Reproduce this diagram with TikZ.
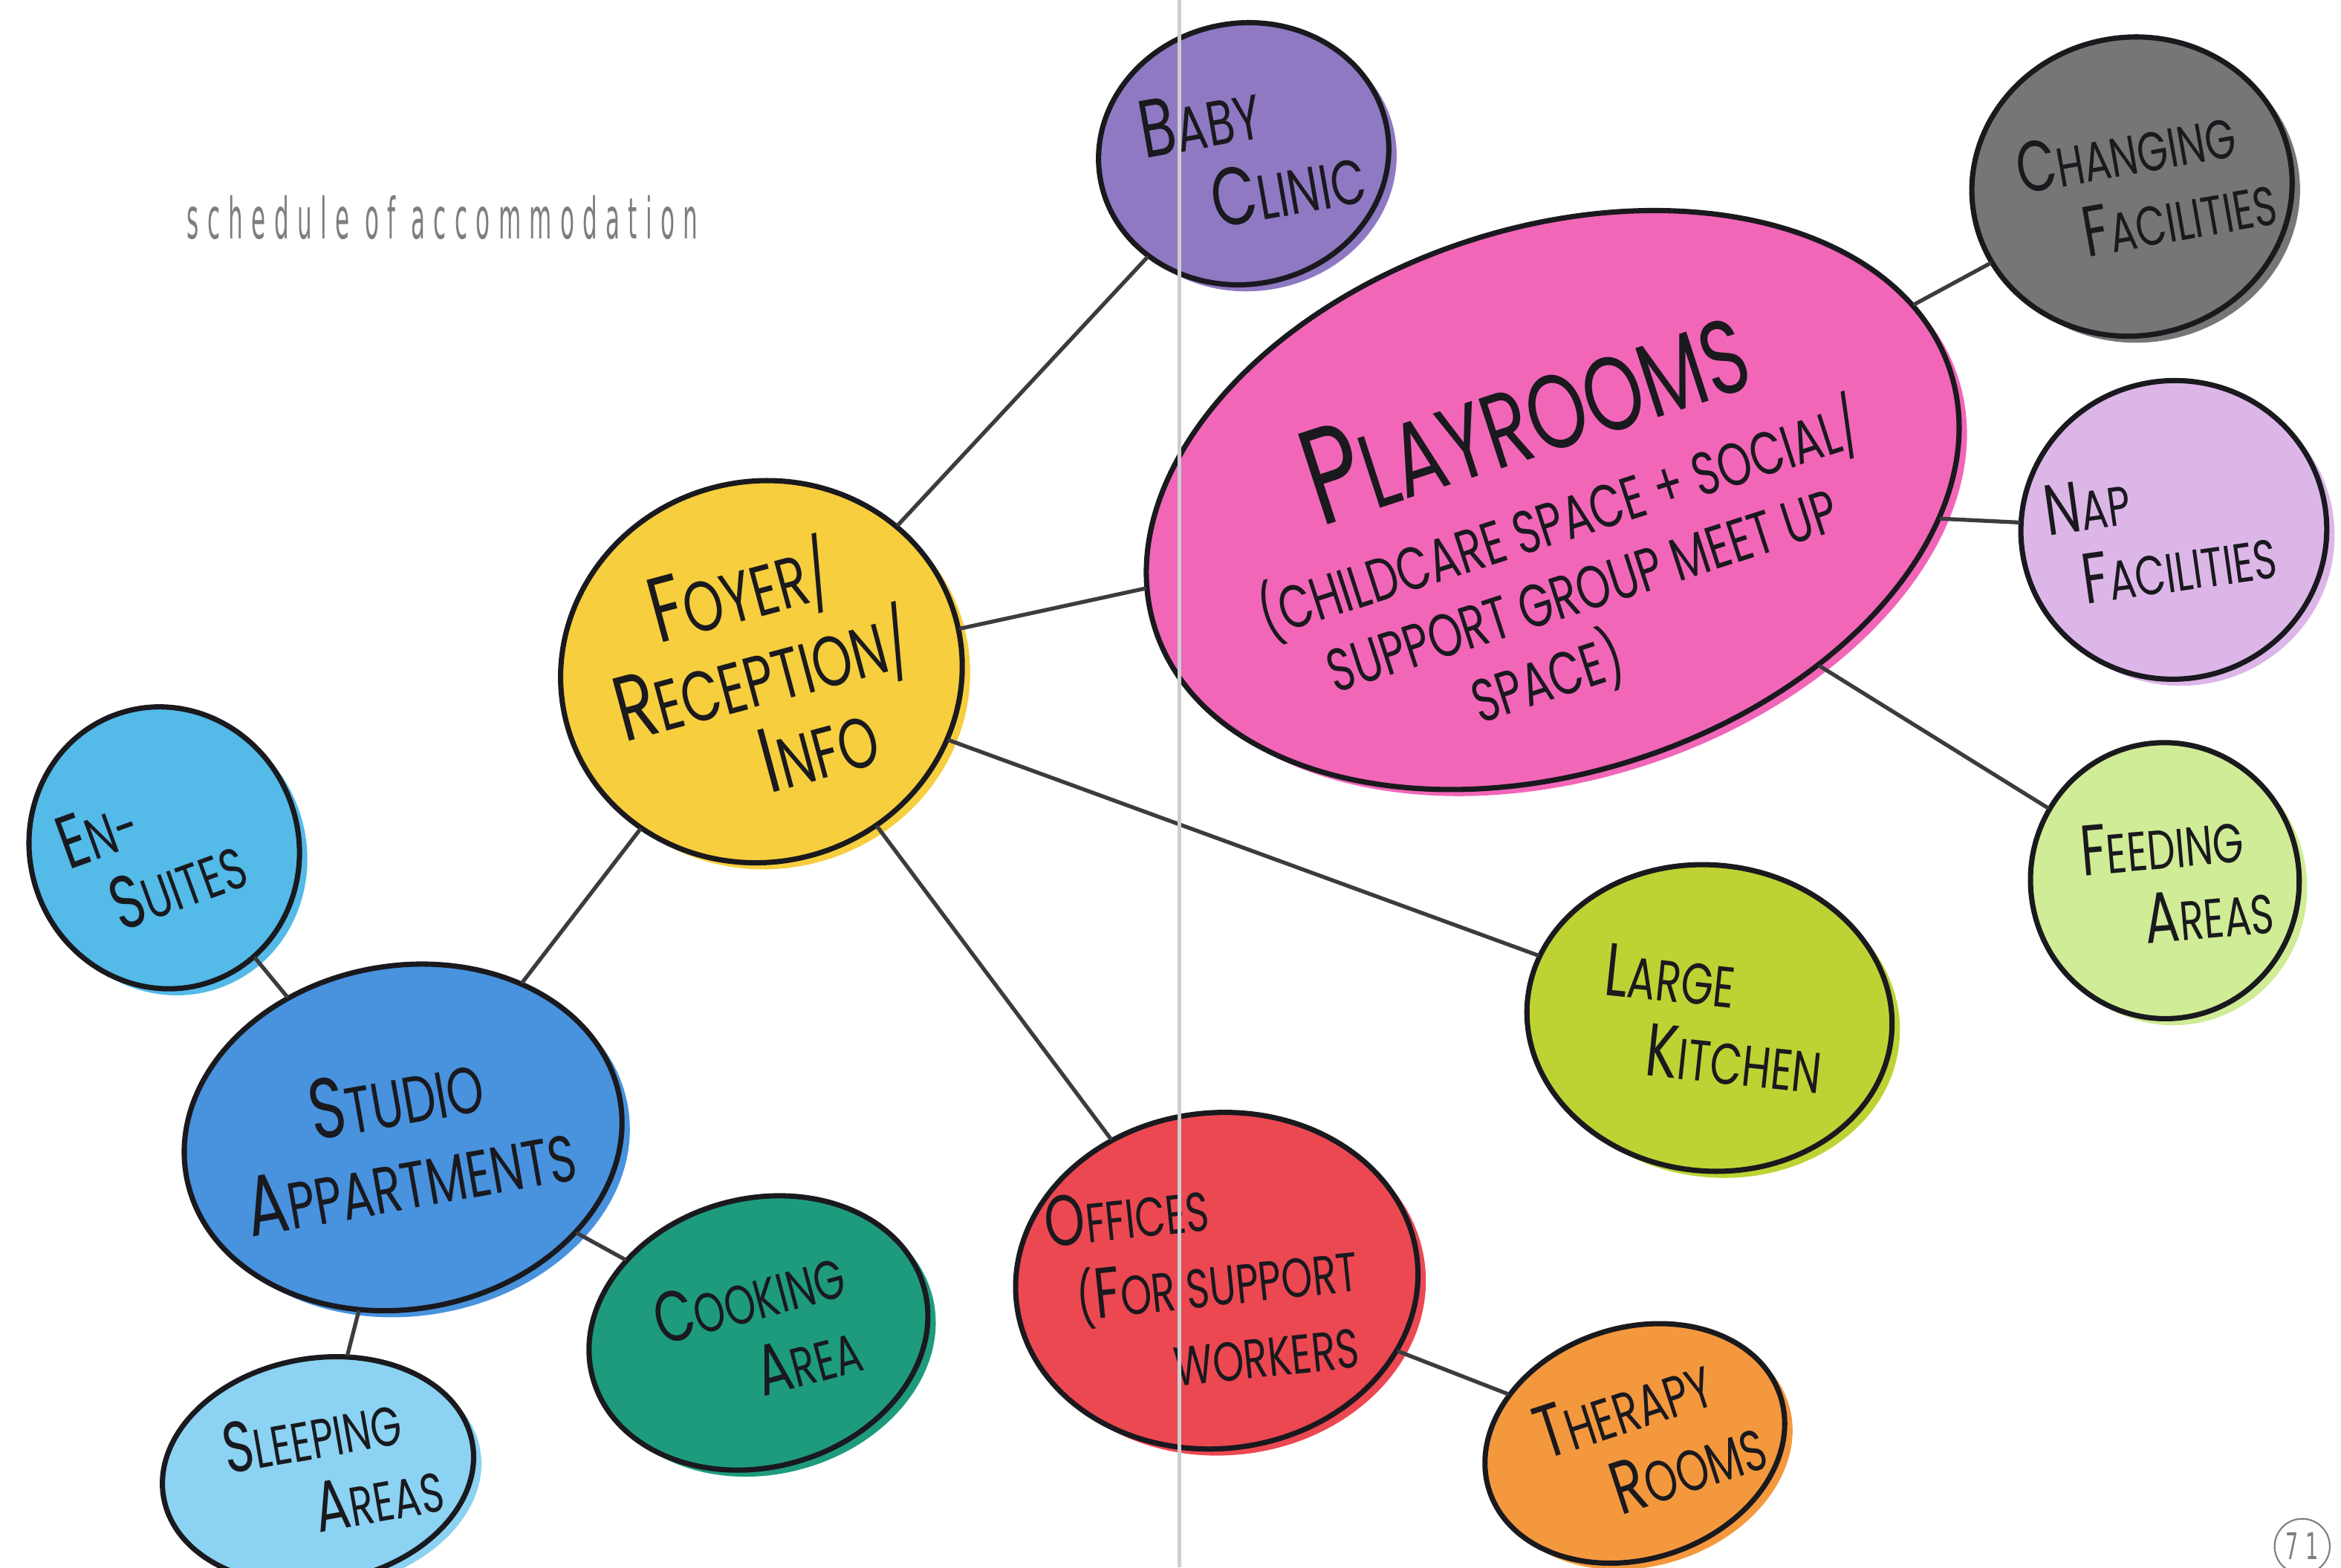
\documentclass[tikz,border=0pt]{standalone}
\usepackage{fontspec}
\usepackage{graphicx}
\usetikzlibrary{shapes.geometric}

% marker lettering and the thin page heading
\newfontfamily\hand[FakeStretch=0.72]{Poppins}
\newfontfamily\titlefont[FakeStretch=0.55,LetterSpace=20]{DejaVu Sans}
\newcommand\Ini[1]{\scalebox{1.3}{#1}}

% marker colours
\definecolor{ink}{RGB}{25,25,30}
\definecolor{titlegray}{RGB}{125,125,130}
\definecolor{foldgray}{RGB}{205,205,208}
\definecolor{cBaby}{RGB}{143,121,195}
\definecolor{cChange}{RGB}{118,118,118}
\definecolor{cPlay}{RGB}{242,102,184}
\definecolor{cNap}{RGB}{221,182,232}
\definecolor{cFeed}{RGB}{208,236,150}
\definecolor{cKitchen}{RGB}{190,210,52}
\definecolor{cFoyer}{RGB}{246,206,62}
\definecolor{cSuite}{RGB}{84,186,232}
\definecolor{cStudio}{RGB}{72,146,222}
\definecolor{cCook}{RGB}{30,155,125}
\definecolor{cSleep}{RGB}{140,210,242}
\definecolor{cOffice}{RGB}{236,72,82}
\definecolor{cTherapy}{RGB}{244,152,62}

\tikzset{
  blob/.style={ellipse, draw=ink, line width=2pt, fill=#1, inner sep=-3cm,
    align=center, text=ink,
    preaction={fill=#1, transform canvas={shift={(3pt,-2.5pt)}}}},
  hw/.style 2 args={font=\hand\fontsize{#1}{#2}\selectfont},
  link/.style={draw=ink!85, line width=1.5pt, line cap=round},
}

\begin{document}
\begin{tikzpicture}[x=0.02cm, y=-0.02cm]

    % --- Page ---
    \clip (0,0) rectangle (1568,1050);
    \fill[white] (0,0) rectangle (1568,1050);

    \node[anchor=base west, text=titlegray, inner sep=0pt] (title) at (125,160)
        {\titlefont\resizebox{6.84cm}{0.58cm}{schedule of accommodation}};

    % --- Centre: foyer ---
    \node[blob=cFoyer, hw={27pt}{33pt}, minimum width=5.4cm, minimum height=5.1cm, rotate=15]
        (foyer) at (510,450) {\Ini{F}OYER/\\\Ini{R}ECEPTION/\\\hspace*{1em}\Ini{I}NFO};

    % --- Right page: childcare ---
    \node[blob=cBaby, hw={24pt}{31pt}, minimum width=3.9cm, minimum height=3.5cm, rotate=10]
        (baby) at (833,103) {\Ini{B}ABY\hspace*{1.2em}\\\hspace*{1.2em}\Ini{C}LINIC};

    \node[blob=cPlay, hw={23pt}{28pt}, minimum width=11.2cm, minimum height=7.3cm, rotate=18]
        (play) at (1040,335)
        {\mbox{}\\[22pt]
         {\fontsize{40pt}{44pt}\selectfont\Ini{P}LAYROOMS}\hspace*{5em}\\[6pt]
         (CHILDCARE SPACE + SOCIAL/\hspace*{1em}\\SUPPORT GROUP MEET UP\hspace*{1em}\\SPACE)\hspace*{2em}};

    \node[blob=cChange, hw={21pt}{28pt}, minimum width=4.3cm, minimum height=4.0cm, rotate=10]
        (changing) at (1428,125) {\Ini{C}HANGING\\\hspace*{1.5em}\Ini{F}ACILITIES};

    \node[blob=cNap, hw={21pt}{28pt}, minimum width=4.1cm, minimum height=4.0cm, rotate=8]
        (nap) at (1456,355) {\Ini{N}AP\hspace*{3em}\\\Ini{F}ACILITIES};

    \node[blob=cFeed, hw={21pt}{28pt}, minimum width=3.6cm, minimum height=3.7cm, rotate=5]
        (feeding) at (1450,590) {\Ini{F}EEDING\\\hspace*{1.5em}\Ini{A}REAS};

    \node[blob=cKitchen, hw={22pt}{29pt}, minimum width=4.9cm, minimum height=4.1cm, rotate=-6]
        (kitchen) at (1145,682) {\Ini{L}ARGE\hspace*{1.5em}\\\hspace*{1em}\Ini{K}ITCHEN};

    \node[blob=cOffice, hw={21pt}{29pt}, minimum width=5.4cm, minimum height=4.5cm, rotate=6]
        (offices) at (815,858) {\Ini{O}FFICES\hspace*{3em}\\(\Ini{F}OR SUPPORT\\\hspace*{1.5em}WORKERS};

    \node[blob=cTherapy, hw={22pt}{29pt}, minimum width=4.1cm, minimum height=3.1cm, rotate=18]
        (therapy) at (1095,967) {\Ini{T}HERAPY\\\hspace*{1.5em}\Ini{R}OOMS};

    % --- Left page: living ---
    \node[blob=cSuite, hw={22pt}{29pt}, minimum width=3.6cm, minimum height=3.8cm, rotate=20]
        (ensuites) at (110,568) {\Ini{E}N-\hspace*{2em}\\\Ini{S}UITES};

    \node[blob=cStudio, hw={25pt}{32pt}, minimum width=5.9cm, minimum height=4.6cm, rotate=10]
        (studio) at (270,762) {\Ini{S}TUDIO\\\Ini{A}PPARTMENTS};

    \node[blob=cCook, hw={21pt}{29pt}, minimum width=4.6cm, minimum height=3.6cm, rotate=15]
        (cooking) at (508,893) {\Ini{C}OOKING\\\hspace*{1.5em}\Ini{A}REA};

    \node[blob=cSleep, hw={21pt}{28pt}, minimum width=4.2cm, minimum height=3.0cm, rotate=10]
        (sleeping) at (213,985) {\Ini{S}LEEPING\\\hspace*{2em}\Ini{A}REAS};

    % --- Links ---
    \draw[link] (foyer) -- (baby);
    \draw[link] (foyer) -- (play);
    \draw[link] (foyer) -- (kitchen);
    \draw[link] (foyer) -- (offices);
    \draw[link] (foyer) -- (studio);
    \draw[link] (studio) -- (ensuites);
    \draw[link] (studio) -- (cooking);
    \draw[link] (studio) -- (sleeping);
    \draw[link] (offices) -- (therapy);
    \draw[link] (play) -- (changing);
    \draw[link] (play) -- (nap);
    \draw[link] (play) -- (feeding);

    % --- Spine fold and page number ---
    \coordinate (foldtop) at (790,0);
    \coordinate (foldbot) at (790,1050);
    \draw[foldgray, line width=1.6pt] (foldtop) -- (foldbot);

    \node[circle, draw=titlegray, line width=0.6pt, minimum size=0.74cm, inner sep=0pt,
          text=titlegray, font=\titlefont\fontsize{14pt}{14pt}\selectfont]
        (pagenum) at (1542,1036) {71};

\end{tikzpicture}
\end{document}
